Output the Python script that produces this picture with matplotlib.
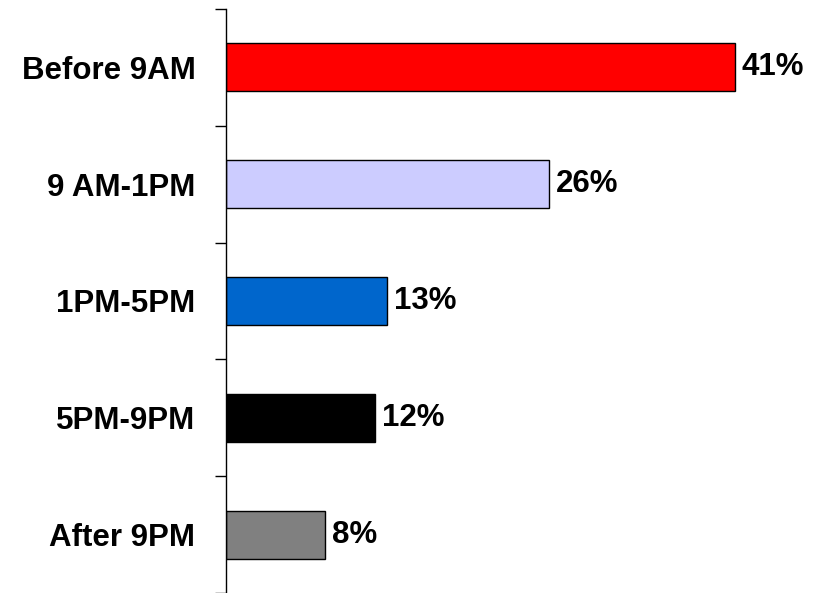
import numpy as np
import matplotlib.pyplot as plt

plt.rcParams['font.family'] = ['Liberation Sans', 'DejaVu Sans']

categories = ['Before 9AM', '9 AM-1PM', '1PM-5PM', '5PM-9PM', 'After 9PM']
values = [41, 26, 13, 12, 8]
colors = ['#FF0000', '#CCCCFF', '#0066CC', '#000000', '#808080']

fig = plt.figure(figsize=(8.23, 5.93), dpi=100)
ax = fig.add_axes([226/823, 0.0, 560/823, 1 - 9/593])

y = np.arange(len(categories))
bars = ax.barh(y, values, height=0.41, color=colors, edgecolor='black', linewidth=1)

ax.set_ylim(len(categories) - 0.5, -0.5)
ax.set_xlim(0, 560/509*41)

ax.set_yticks(y)
ax.set_yticklabels(categories, fontsize=22.5, fontweight='bold')
ax.tick_params(axis='y', which='major', length=0, pad=22)
ax.set_yticks(np.arange(-0.5, len(categories)), minor=True)
ax.tick_params(axis='y', which='minor', length=8, width=1, direction='out')

ax.set_xticks([])
for s in ['top', 'right', 'bottom']:
    ax.spines[s].set_visible(False)
ax.spines['left'].set_linewidth(1)

for b, v in zip(bars, values):
    ax.annotate(f'{v}%', (b.get_width(), b.get_y() + b.get_height()/2),
                xytext=(5, 0), textcoords='offset points',
                va='center', ha='left', fontsize=22.5, fontweight='bold')

plt.savefig('out.png', dpi=100)
